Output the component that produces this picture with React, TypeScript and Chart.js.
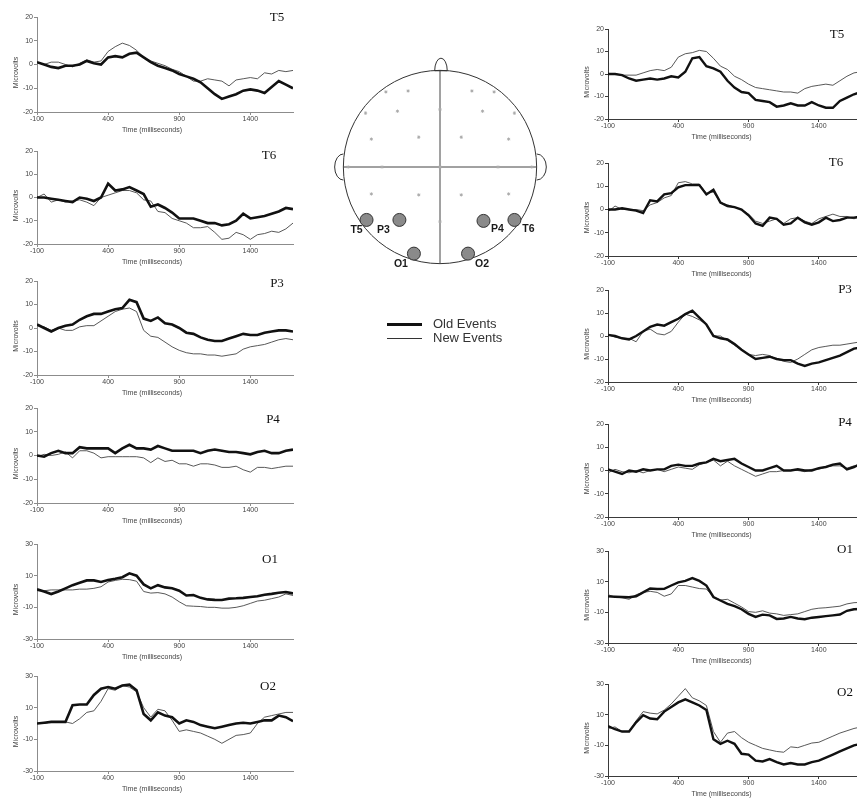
import React, { useEffect, useRef } from "react";
import { Chart, registerables } from "chart.js";
Chart.register(...registerables);

// ---------- data ----------
const TIMES = [-100, -50, 0, 50, 100, 150, 200, 250, 300, 350, 400, 450, 500, 550, 600, 650, 700, 750, 800, 850, 900, 950, 1000, 1050, 1100, 1150, 1200, 1250, 1300, 1350, 1400, 1450, 1500, 1550, 1600, 1650, 1700];
const X_TICKS = [-100, 400, 900, 1400];
const Y_TICKS_20 = [-20, -10, 0, 10, 20];
const Y_TICKS_30 = [-30, -10, 10, 30];

// left column
const T5_L_OLD = [1, 0, -1, -1.5, -0.5, -0.5, 0, 1.5, 0.5, 0, 3, 3.5, 3, 4.5, 5, 3, 1, -0.5, -1.5, -2.5, -4, -5, -6, -7.5, -10, -12.5, -14.5, -13.5, -12.5, -11, -10.5, -11, -12, -9.5, -7, -8.5, -10];
const T5_L_NEW = [1, 0, 1, 1, 0, -1, 0.5, 2, 1, 1.5, 5.5, 7.5, 9, 8, 6, 3, 1.5, 0.5, -0.5, -2, -3, -5, -7, -7, -6, -6.5, -7, -9, -6.5, -6, -5.5, -6, -3.5, -4, -2.5, -3, -2.5];
const T6_L_OLD = [0, 0, -0.5, -1, -1.5, -2, 0, -0.5, -1.5, 0, 6, 3, 3.5, 4.5, 3, 1.5, -4, -3, -4.5, -6.5, -9, -9, -9, -10, -11, -11, -12, -11.5, -10, -7, -9, -8.5, -8, -7, -6, -4.5, -5];
const T6_L_NEW = [0, 1.5, -2, -1, -2, -1.5, -1, -2, -3.5, 0, 1, 2, 3, 3, 2, -1, -1.5, -6, -6.5, -9, -10, -11, -13, -13, -12.5, -15, -18, -17.5, -15, -16, -18, -16, -15.5, -14.5, -15, -13.5, -11];
const P3_L_OLD = [1.5, 0, -1.5, 0, 1, 1.5, 3.5, 5, 6, 6, 7, 8, 8.5, 12, 11, 4, 3, 4.5, 2, 1.5, 0, -2, -2.5, -4, -5, -5.5, -5.5, -4.5, -3.5, -2.5, -3, -3, -2, -1.5, -1, -1, -1.5];
const P3_L_NEW = [1, 0.5, -1, 0, -1, -1, 0.5, 1, 1, 3, 5, 7, 8, 8.5, 7, -1, -3.5, -4, -6, -8, -9.5, -10.5, -11, -11, -11.5, -11.5, -12, -11.5, -11, -9, -8, -7.5, -7, -6, -5, -4.5, -5];
const P4_L_OLD = [0, -0.5, 1, 2, 1, 1, 3.5, 3, 3, 3, 3, 1, 3, 4.5, 3, 3, 2.5, 4, 3, 2, 2, 2, 2, 1, 2, 2.5, 2, 1.5, 1.5, 1, 0.5, 1.5, 2, 1, 1, 2, 2.5];
const P4_L_NEW = [-0.5, 0.5, 0, 0.5, 1.5, -1, 2, 2, 1, -1, -0.5, -0.5, -0.5, -0.5, -0.5, -1, -3, -1, -2.5, -2, -3.5, -3.5, -4.5, -3.5, -3.5, -4, -5, -5, -4.5, -6, -7, -5, -5, -5.5, -5, -4.5, -4.5];
const O1_L_OLD = [1.4, 0, -1.6, 0, 2, 4, 5.5, 7, 7, 6, 7.2, 8, 9, 11.5, 10, 4.5, 2, 4, 2.6, 2, 0.5, -2.5, -2.2, -4, -5, -5.3, -5.4, -4.5, -4.3, -4, -3.5, -3, -2, -1.5, -0.8, -0.3, -1.2];
const O1_L_NEW = [0.5, 0.5, 1, 1, 1, 1, 1.5, 1.5, 2, 3, 6, 7, 7.7, 7.5, 6.5, 0, -1, -0.7, -1.5, -3.5, -6.5, -9, -9.3, -9.5, -10, -10, -10.5, -10.5, -10, -9, -7.5, -6, -5.5, -4.5, -3.5, -1.5, -2.5];
const O2_L_OLD = [0, 0.5, 1, 1, 1, 11.5, 12, 12, 18, 22, 23, 22, 24, 24.5, 21, 6, 2, 7, 5, 4, 0, 2, 1, -1, -2, -3, -2, -1, 0, 0.5, 0, 1, 2, 2, 5, 4, 1.5];
const O2_L_NEW = [0, 0, 1, 1, 1, 0, 3, 7, 8, 14, 22, 21, 24, 23, 20, 10, 4, 9, 8, 2, -5, -4, -5, -6, -8, -10, -12.5, -10, -7.5, -7, -6, 0, 4, 5, 6, 7, 7];

// right column
const T5_R_OLD = [0, 0, -0.5, -2, -3, -2.5, -2, -2.5, -2, -1, -1.5, 1, 7, 7.5, 3.5, 2.5, 1, -3, -6, -8, -8.5, -11.5, -12, -12.5, -14.5, -14, -13, -14, -14, -12.5, -14, -15, -15, -12, -10.5, -9, -8];
const T5_R_NEW = [0, 0, -0.5, -0.5, -0.5, 0.5, 1.5, 2, 1.5, 3, 7.5, 9, 9.5, 10.5, 10, 7, 3.5, 2, -1, -2.5, -4.5, -6, -6.5, -7, -7.5, -8, -8, -8.5, -6.5, -5.5, -5, -4.5, -5, -3, -1, 0.5, 1];
const T6_R_OLD = [0, 0, 0.5, 0, -0.5, -1.5, 4, 3.5, 6.5, 7, 9.5, 10.5, 10.5, 10.5, 6.5, 8.5, 3, 1.5, 1, 0, -2.5, -6, -7, -3.5, -4, -6.5, -6, -3.5, -5.5, -6.5, -5.5, -3.5, -5, -4.5, -3.5, -3.5, -3];
const T6_R_NEW = [-1, 1.5, 0, 0, 0, -0.5, 2, 3, 5, 6, 11.5, 12, 11, 11, 7, 7.5, 3, 2, 1, 0, -2, -5, -6, -5, -4, -6, -4, -3.5, -5, -6, -4, -3, -2, -3, -3, -4, -3];
const P3_R_OLD = [0.5, 0, -1, -1.5, 0, 2, 4, 5, 4.5, 6, 7.5, 9.5, 11, 8, 5, 0, -1, -1.5, -3.5, -6, -8, -10, -9.5, -9, -10, -10.5, -10.5, -12, -13, -12, -11.5, -10.5, -9.5, -8.5, -7, -5.5, -5];
const P3_R_NEW = [0.5, -0.5, -1, -1, -2.5, 2, 3, 1, 0.5, 2, 6, 9.5, 8.5, 7, 5, 0, 0, -2, -4, -6, -8, -8.5, -8, -8.5, -10, -11, -11.5, -10, -8, -6, -5, -4.5, -4, -4, -3.5, -3, -2.5];
const P4_R_OLD = [0.5, -0.5, -1.5, 0, -0.5, 0.5, 0, 0.5, 0.5, 2, 2.5, 2, 2, 3, 3.5, 5, 4, 4.5, 5, 3, 1.5, 0, 0, 1, 2, 0, 0, 0.5, 0, 0, 1, 1.5, 2.5, 3, 0.5, 1.5, 3];
const P4_R_NEW = [-1, 0.5, -0.5, -1, 0, -1, 0, 0.5, -0.5, 0.5, 1.5, 1, 0.5, 2.5, 3.5, 4.5, 2, 4, 2, 0.5, -1, -2.5, -1.5, -0.5, -0.5, 0, 0, 0, -0.5, 0.5, 0.5, 1.5, 2, 2, 1, 2, 2];
const O1_R_OLD = [0.4, 0.2, 0, -0.2, 0.5, 3, 5.5, 5.2, 5.3, 7.5, 9.5, 10.5, 12.3, 10.5, 7.5, 0, -2.3, -4.5, -6, -8, -11, -13, -11.5, -12, -14.3, -14, -13, -14, -14.5, -13.5, -13, -12.5, -12, -11.4, -9, -8, -7.8];
const O1_R_NEW = [1.5, 0, -0.5, -1.5, 1.5, 3, 3.7, 3, 0.5, 2, 7.5, 7.5, 6.5, 5.5, 5.2, 0, -2, -1.5, -4, -6.5, -9.5, -10, -9, -10.5, -11, -12, -11.5, -11, -9.5, -8, -7.3, -7, -6.5, -6, -4.5, -3.7, -3.5];
const O2_R_OLD = [2.5, 0.5, -1, -1, 5, 9.7, 7.5, 7, 12, 15, 18, 20, 18, 16, 13, -6, -9, -7, -9, -15.5, -16, -20, -20.5, -19, -21, -22.5, -21.5, -22.5, -22.5, -21, -20, -18, -16, -14, -12, -10, -9];
const O2_R_NEW = [1, 2, -1, -1, 6, 12, 11, 10.5, 13, 17, 22, 27, 21, 19, 16, -1, -8, -2, -1, -5, -8, -10, -12, -13, -14, -14.5, -11, -11.5, -10, -8.5, -8, -6, -4, -2, -0.5, 1, 2];

// head diagram electrodes (head radius = 1)
const SMALL_X = [-0.56, -0.33, 0.33, 0.56, -0.77, -0.44, 0, 0.44, 0.77, -0.71, -0.22, 0.22, 0.71, -0.95, -0.6, 0, 0.6, 0.95, -0.71, -0.22, 0.22, 0.71, 0];
const SMALL_Y = [0.78, 0.79, 0.79, 0.78, 0.56, 0.58, 0.6, 0.58, 0.56, 0.29, 0.31, 0.31, 0.29, 0, 0, 0, 0, 0, -0.28, -0.29, -0.29, -0.28, -0.57];
const BIG_NAMES = ["T5", "P3", "P4", "T6", "O1", "O2"];
const BIG_X = [-0.76, -0.42, 0.45, 0.77, -0.27, 0.29];
const BIG_Y = [-0.55, -0.55, -0.56, -0.55, -0.9, -0.9];
const LEGEND_LABELS = ["Old Events", "New Events"];

// ---------- layout / style ----------
const BIG_LABEL_OFFSETS = [[-10, 10], [-16, 10], [14, 8], [14, 9], [-13, 10], [14, 10]];
const HEAD_BOX = { left: 297, top: 34, width: 286, height: 266, cx: 440, cy: 167, unit: 102 };

type Box = { l: number; t: number; r: number; b: number };
type PanelCfg = {
  name: string; oldVals: number[]; newVals: number[]; yTicks: number[];
  box: Box; nameAt: [number, number]; axisColor: string; oldW: number; newW: number;
};

const LEFT_STYLE = { axisColor: "#8c8c8c", oldW: 2.6, newW: 0.9 };
const RIGHT_STYLE = { axisColor: "#3a3a3a", oldW: 2.4, newW: 0.9 };

const PANELS: PanelCfg[] = [
  { name: "T5", oldVals: T5_L_OLD, newVals: T5_L_NEW, yTicks: Y_TICKS_20, box: { l: 37, t: 17, r: 293, b: 112 }, nameAt: [-16, 1], ...LEFT_STYLE },
  { name: "T6", oldVals: T6_L_OLD, newVals: T6_L_NEW, yTicks: Y_TICKS_20, box: { l: 37, t: 151, r: 293, b: 244 }, nameAt: [-24, 5], ...LEFT_STYLE },
  { name: "P3", oldVals: P3_L_OLD, newVals: P3_L_NEW, yTicks: Y_TICKS_20, box: { l: 37, t: 281, r: 293, b: 375 }, nameAt: [-16, 3], ...LEFT_STYLE },
  { name: "P4", oldVals: P4_L_OLD, newVals: P4_L_NEW, yTicks: Y_TICKS_20, box: { l: 37, t: 408, r: 293, b: 503 }, nameAt: [-20, 12], ...LEFT_STYLE },
  { name: "O1", oldVals: O1_L_OLD, newVals: O1_L_NEW, yTicks: Y_TICKS_30, box: { l: 37, t: 544, r: 293, b: 639 }, nameAt: [-23, 16], ...LEFT_STYLE },
  { name: "O2", oldVals: O2_L_OLD, newVals: O2_L_NEW, yTicks: Y_TICKS_30, box: { l: 37, t: 676, r: 293, b: 771 }, nameAt: [-25, 11], ...LEFT_STYLE },
  { name: "T5", oldVals: T5_R_OLD, newVals: T5_R_NEW, yTicks: Y_TICKS_20, box: { l: 608, t: 29, r: 861, b: 119 }, nameAt: [-24, 6], ...RIGHT_STYLE },
  { name: "T6", oldVals: T6_R_OLD, newVals: T6_R_NEW, yTicks: Y_TICKS_20, box: { l: 608, t: 163, r: 861, b: 256 }, nameAt: [-25, 0], ...RIGHT_STYLE },
  { name: "P3", oldVals: P3_R_OLD, newVals: P3_R_NEW, yTicks: Y_TICKS_20, box: { l: 608, t: 290, r: 861, b: 382 }, nameAt: [-16, 0], ...RIGHT_STYLE },
  { name: "P4", oldVals: P4_R_OLD, newVals: P4_R_NEW, yTicks: Y_TICKS_20, box: { l: 608, t: 424, r: 861, b: 517 }, nameAt: [-16, -1], ...RIGHT_STYLE },
  { name: "O1", oldVals: O1_R_OLD, newVals: O1_R_NEW, yTicks: Y_TICKS_30, box: { l: 608, t: 551, r: 861, b: 643 }, nameAt: [-16, -1], ...RIGHT_STYLE },
  { name: "O2", oldVals: O2_R_OLD, newVals: O2_R_NEW, yTicks: Y_TICKS_30, box: { l: 608, t: 684, r: 861, b: 776 }, nameAt: [-16, 9], ...RIGHT_STYLE },
];

const SANS = '"Liberation Sans", Arial, sans-serif';
const SERIF = '"Liberation Serif", "Times New Roman", serif';
const PAD_T = 8, Y_W = 37, X_H = 24, PAD_R = 2;

function Panel({ cfg }: { cfg: PanelCfg }) {
  const ref = useRef<HTMLCanvasElement | null>(null);
  const width = Y_W + (cfg.box.r - cfg.box.l) + PAD_R;
  const height = PAD_T + (cfg.box.b - cfg.box.t) + X_H;
  useEffect(() => {
    const yMin = cfg.yTicks[0];
    const yMax = cfg.yTicks[cfg.yTicks.length - 1];
    const textPlugin = {
      id: "panelText",
      afterDraw(chart: any) {
        const { ctx, chartArea: a } = chart;
        ctx.save();
        ctx.fillStyle = "#111";
        ctx.font = `13px ${SERIF}`;
        ctx.textAlign = "center";
        ctx.textBaseline = "middle";
        ctx.fillText(cfg.name, a.right + cfg.nameAt[0], a.top + cfg.nameAt[1]);
        ctx.fillStyle = "#444";
        ctx.font = `7px ${SANS}`;
        ctx.fillText("Time (milliseconds)", (a.left + a.right) / 2 - 13, a.bottom + 18);
        ctx.translate(a.left - 21, (a.top + a.bottom) / 2 + 8);
        ctx.rotate(-Math.PI / 2);
        ctx.fillText("Microvolts", 0, 0);
        ctx.restore();
      },
    };
    const axisCommon = {
      grid: { drawOnChartArea: false, drawTicks: true, tickLength: 3, color: cfg.axisColor, lineWidth: 1 },
      border: { display: true, color: cfg.axisColor, width: 1 },
    };
    const chart = new Chart(ref.current as HTMLCanvasElement, {
      type: "line",
      data: {
        datasets: [
          {
            label: LEGEND_LABELS[0],
            data: TIMES.map((t, i) => ({ x: t, y: cfg.oldVals[i] })),
            borderColor: "#111",
            borderWidth: cfg.oldW,
            pointRadius: 0,
            tension: 0,
            fill: false,
          },
          {
            label: LEGEND_LABELS[1],
            data: TIMES.map((t, i) => ({ x: t, y: cfg.newVals[i] })),
            borderColor: "#454545",
            borderWidth: cfg.newW,
            pointRadius: 0,
            tension: 0,
            fill: false,
          },
        ],
      },
      options: {
        responsive: false,
        animation: false,
        devicePixelRatio: 1,
        layout: { padding: { top: PAD_T, right: PAD_R, left: 0, bottom: 0 } },
        plugins: { legend: { display: false }, tooltip: { enabled: false }, title: { display: false } },
        scales: {
          x: {
            type: "linear",
            min: TIMES[0],
            max: TIMES[TIMES.length - 1],
            afterBuildTicks: (s: any) => { s.ticks = X_TICKS.map((v) => ({ value: v })); },
            afterFit: (s: any) => { s.height = X_H; },
            ticks: { callback: (v: any) => String(v), font: { family: SANS, size: 7 }, color: "#444", padding: 0, maxRotation: 0, autoSkip: false },
            ...axisCommon,
          },
          y: {
            type: "linear",
            min: yMin,
            max: yMax,
            afterBuildTicks: (s: any) => { s.ticks = cfg.yTicks.map((v) => ({ value: v })); },
            afterFit: (s: any) => { s.width = Y_W; },
            ticks: { callback: (v: any) => String(v), font: { family: SANS, size: 7 }, color: "#444", padding: 1, autoSkip: false },
            ...axisCommon,
          },
        },
      } as any,
      plugins: [textPlugin],
    });
    return () => chart.destroy();
  }, []);
  return (
    <canvas
      ref={ref}
      width={width}
      height={height}
      style={{ position: "absolute", left: cfg.box.l - Y_W, top: cfg.box.t - PAD_T, width, height }}
    />
  );
}

function Head() {
  const ref = useRef<HTMLCanvasElement | null>(null);
  const hb = HEAD_BOX;
  useEffect(() => {
    const xMin = (hb.left - hb.cx) / hb.unit;
    const xMax = (hb.left + hb.width - hb.cx) / hb.unit;
    const yMax = (hb.cy - hb.top) / hb.unit;
    const yMin = (hb.cy - (hb.top + hb.height)) / hb.unit;
    const headPlugin = {
      id: "headShape",
      beforeDatasetsDraw(chart: any) {
        const { ctx } = chart;
        const xs = chart.scales.x, ys = chart.scales.y;
        const X = (v: number) => xs.getPixelForValue(v);
        const Y = (v: number) => ys.getPixelForValue(v);
        const r = X(1) - X(0);
        ctx.save();
        ctx.strokeStyle = "#333";
        ctx.lineWidth = 1;
        ctx.beginPath();
        ctx.arc(X(0), Y(0), r, 0, Math.PI * 2);
        ctx.stroke();
        ctx.strokeStyle = "#444";
        ctx.beginPath();
        ctx.moveTo(X(0), Y(1));
        ctx.lineTo(X(0), Y(-1));
        ctx.moveTo(X(-1), Y(0));
        ctx.lineTo(X(1), Y(0));
        ctx.stroke();
        ctx.strokeStyle = "#333";
        // nose
        ctx.beginPath();
        ctx.ellipse(X(0.01), Y(1), 0.065 * r, 0.13 * r, 0, Math.PI, Math.PI * 2);
        ctx.closePath();
        ctx.stroke();
        // ears
        ctx.beginPath();
        ctx.ellipse(X(-1), Y(0), 0.09 * r, 0.135 * r, 0, Math.PI / 2, (Math.PI * 3) / 2);
        ctx.stroke();
        ctx.beginPath();
        ctx.ellipse(X(1), Y(0), 0.1 * r, 0.135 * r, 0, -Math.PI / 2, Math.PI / 2);
        ctx.stroke();
        ctx.restore();
      },
      afterDatasetsDraw(chart: any) {
        const { ctx } = chart;
        const xs = chart.scales.x, ys = chart.scales.y;
        ctx.save();
        ctx.fillStyle = "#1a1a1a";
        ctx.font = `bold 10.5px ${SANS}`;
        ctx.textAlign = "center";
        ctx.textBaseline = "middle";
        BIG_NAMES.forEach((n, i) => {
          const px = xs.getPixelForValue(BIG_X[i]) + BIG_LABEL_OFFSETS[i][0];
          const py = ys.getPixelForValue(BIG_Y[i]) + BIG_LABEL_OFFSETS[i][1];
          ctx.fillText(n, px, py);
        });
        ctx.restore();
      },
    };
    const chart = new Chart(ref.current as HTMLCanvasElement, {
      type: "scatter",
      data: {
        datasets: [
          {
            label: "selected",
            data: BIG_X.map((x, i) => ({ x, y: BIG_Y[i] })),
            pointStyle: "circle",
            pointRadius: 6.5,
            backgroundColor: "#8a8a8a",
            borderColor: "#333",
            borderWidth: 1,
          },
          {
            label: "electrodes",
            data: SMALL_X.map((x, i) => ({ x, y: SMALL_Y[i] })),
            pointStyle: "star",
            pointRadius: 1.6,
            borderColor: "#ababab",
            backgroundColor: "#ababab",
            borderWidth: 1,
          },
        ],
      },
      options: {
        responsive: false,
        animation: false,
        devicePixelRatio: 1,
        layout: { padding: 0 },
        plugins: { legend: { display: false }, tooltip: { enabled: false } },
        scales: {
          x: { type: "linear", min: xMin, max: xMax, display: false },
          y: { type: "linear", min: yMin, max: yMax, display: false },
        },
      } as any,
      plugins: [headPlugin],
    });
    return () => chart.destroy();
  }, []);
  return (
    <canvas
      ref={ref}
      width={hb.width}
      height={hb.height}
      style={{ position: "absolute", left: hb.left, top: hb.top, width: hb.width, height: hb.height }}
    />
  );
}

export default function App() {
  return (
    <div style={{ position: "fixed", left: 0, top: 0, width: 857, height: 798, overflow: "hidden", background: "#fff" }}>
      {PANELS.map((p, i) => (
        <Panel key={i} cfg={p} />
      ))}
      <Head />
      <div style={{ position: "absolute", left: 387, top: 322.5, width: 35, height: 3, background: "#111" }} />
      <div style={{ position: "absolute", left: 387, top: 337.5, width: 35, height: 1, background: "#333" }} />
      <div style={{ position: "absolute", left: 433, top: 316, font: `13px ${SANS}`, lineHeight: "16px", color: "#333", whiteSpace: "nowrap" }}>
        {LEGEND_LABELS[0]}
      </div>
      <div style={{ position: "absolute", left: 433, top: 330, font: `13px ${SANS}`, lineHeight: "16px", color: "#333", whiteSpace: "nowrap" }}>
        {LEGEND_LABELS[1]}
      </div>
    </div>
  );
}
